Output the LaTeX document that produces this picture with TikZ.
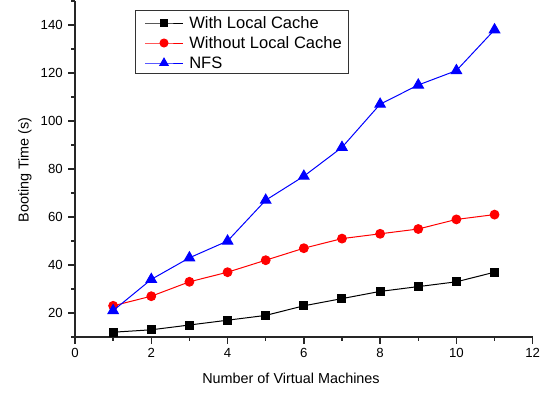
\documentclass[tikz,border=0pt]{standalone}
\usepackage{fontspec}
\setmainfont{Liberation Sans}
\usetikzlibrary{plotmarks}
\begin{document}
\begin{tikzpicture}[x=0.75pt,y=-0.75pt,
  axisline/.style={line width=1.1pt,draw=black!85},
  ticklab/.style={font=\fontsize{9.9pt}{11pt}\selectfont,inner sep=1pt},
  serA/.style={draw=black,line width=0.75pt},
  serB/.style={draw=red,line width=0.75pt},
  serC/.style={draw=blue,line width=0.75pt},
  mkA/.style={mark=square*,mark size=3pt,mark options={fill=black,draw=black,solid}},
  mkB/.style={mark=*,mark size=3.3pt,mark options={fill=red,draw=red,solid}},
  mkC/.style={mark=triangle*,mark size=4.5pt,mark options={fill=blue,draw=blue,solid}},
  legtext/.style={anchor=west,inner sep=0pt,font=\fontsize{12.4pt}{14pt}\selectfont}]
\useasboundingbox (0,0) rectangle (546,393);
\begin{scope}[shift={(56.25pt,-270.75pt)},x=28.605pt,y=1.8pt]
  % axes
  \draw[axisline] (0,150) -- (0,10) -- (12,10);
  % y ticks
  \foreach \v in {20,40,...,140} {
    \draw[axisline] (0,\v) -- ++(-5.25pt,0);
    \node[ticklab,anchor=east] at ([xshift=-8pt]0,\v) {\v};
  }
  \foreach \v in {10,30,...,150} \draw[axisline] (0,\v) -- ++(-3pt,0);
  % x ticks
  \foreach \v in {0,2,...,12} {
    \draw[axisline] (\v,10) -- ++(0,-5.25pt);
    \node[ticklab,anchor=north] at ([yshift=-7pt]\v,10) {\v};
  }
  \foreach \v in {1,3,...,11} \draw[axisline] (\v,10) -- ++(0,-3pt);
  % series
  \draw[serA] plot[mkA] coordinates {(1,12) (2,13) (3,15) (4,17) (5,19) (6,23) (7,26) (8,29) (9,31) (10,33) (11,37)};
  \draw[serB] plot[mkB] coordinates {(1,23) (2,27) (3,33) (4,37) (5,42) (6,47) (7,51) (8,53) (9,55) (10,59) (11,61)};
  \draw[serC] plot[mkC] coordinates {(1,21) (2,34) (3,43) (4,50) (5,67) (6,77) (7,89) (8,107) (9,115) (10,121) (11,138)};
\end{scope}
% axis titles
\node[font=\fontsize{10.8pt}{12pt}\selectfont] (xt) at (291,378) {Number of Virtual Machines};
\node[font=\fontsize{10.8pt}{12pt}\selectfont,rotate=90] (yt) at (25,170) {Booting Time (s)};
% legend
\draw[draw=black!80,line width=0.6pt] (135,10) rectangle (348,73);
\draw[serA] plot[mkA,mark indices={2},mark size=2.6pt] coordinates {(145,23) (164,23) (183,23)};
\draw[serB] plot[mkB,mark indices={2},mark size=3pt] coordinates {(145,43) (164,43) (183,43)};
\draw[serC] plot[mkC,mark indices={2},mark size=3.6pt] coordinates {(145,63) (164,63) (183,63)};
\node[legtext] (la) at (189,23) {With Local Cache};
\node[legtext] (lb) at (189,43) {Without Local Cache};
\node[legtext] (lc) at (189,63) {NFS};
\end{tikzpicture}
\end{document}
